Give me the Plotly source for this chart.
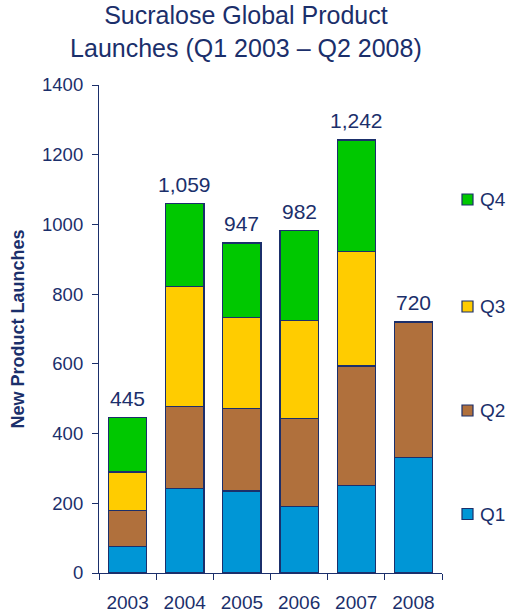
import plotly.graph_objects as go

years = ["2003", "2004", "2005", "2006", "2007", "2008"]
q1 = [75, 242, 235, 190, 252, 332]
q2 = [105, 236, 237, 254, 342, 388]
q3 = [110, 345, 260, 281, 328, None]
q4 = [155, 236, 215, 257, 320, None]
totals = [445, 1059, 947, 982, 1242, 720]

navy = "#1B2F6B"
font_family = "Liberation Sans, Arial, sans-serif"

W, H = 506, 612
M_L, M_R, M_T, M_B = 99, 64, 85, 39
PW, PH = W - M_L - M_R, H - M_T - M_B


def px_x(px):
    """Pixel column -> paper x."""
    return (px - M_L) / PW


def px_y(py):
    """Pixel row -> paper y."""
    return (H - M_B - py) / PH


series = [
    ("Q1", q1, "#0096D6"),
    ("Q2", q2, "#B0703C"),
    ("Q3", q3, "#FFCC00"),
    ("Q4", q4, "#00C800"),
]

fig = go.Figure()
for name, vals, color in series:
    fig.add_trace(go.Bar(
        x=years, y=vals, name=name,
        marker=dict(color=color, line=dict(color=navy, width=1.2)),
        showlegend=False,
    ))

# totals above each stack (category index on the x axis)
for i, tot in enumerate(totals):
    fig.add_annotation(
        x=i, y=tot, text=f"{tot:,}", showarrow=False,
        yanchor="bottom", yshift=6,
        font=dict(size=21, color=navy, family=font_family),
    )

# legend keys drawn at the right, Q4 on top
legend_rows = {"Q4": 199.5, "Q3": 306.5, "Q2": 410.5, "Q1": 514}
for name, _, color in series:
    cy = legend_rows[name]
    fig.add_shape(
        type="rect", xref="paper", yref="paper",
        x0=px_x(462), x1=px_x(473), y0=px_y(cy + 5.5), y1=px_y(cy - 5.5),
        fillcolor=color, line=dict(color=navy, width=1.2),
    )
    fig.add_annotation(
        xref="paper", yref="paper", x=px_x(478), y=px_y(cy),
        xanchor="left", yanchor="middle", text=name, showarrow=False,
        font=dict(size=19, color=navy, family=font_family),
    )

fig.update_layout(
    width=W, height=H,
    barmode="stack", bargap=0.33,
    plot_bgcolor="white", paper_bgcolor="white",
    margin=dict(l=M_L, r=M_R, t=M_T, b=M_B),
    font=dict(family=font_family, color=navy),
    showlegend=False,
    title=dict(
        text="Sucralose Global Product<br>Launches (Q1 2003 – Q2 2008)",
        x=0.486, xanchor="center", y=0.96, yanchor="top",
        font=dict(size=25, color=navy, family=font_family),
    ),
    xaxis=dict(
        type="category", range=[-0.5, len(years) - 0.5], automargin=False,
        showline=True, linecolor=navy, linewidth=1.2,
        ticks="outside", tickson="boundaries", ticklen=6, tickcolor=navy,
        ticklabelstandoff=12,
        tickfont=dict(size=19, color=navy),
        showgrid=False,
    ),
    yaxis=dict(
        range=[0, 1400], dtick=200, automargin=False,
        showline=True, linecolor=navy, linewidth=1.2,
        ticks="outside", ticklen=6, tickcolor=navy, ticklabelstandoff=5,
        tickfont=dict(size=18.5, color=navy),
        showgrid=False, zeroline=False,
        title=dict(text="<b>New Product Launches</b>", standoff=12,
                   font=dict(size=18, color=navy)),
    ),
)

fig.write_html("out.html")
